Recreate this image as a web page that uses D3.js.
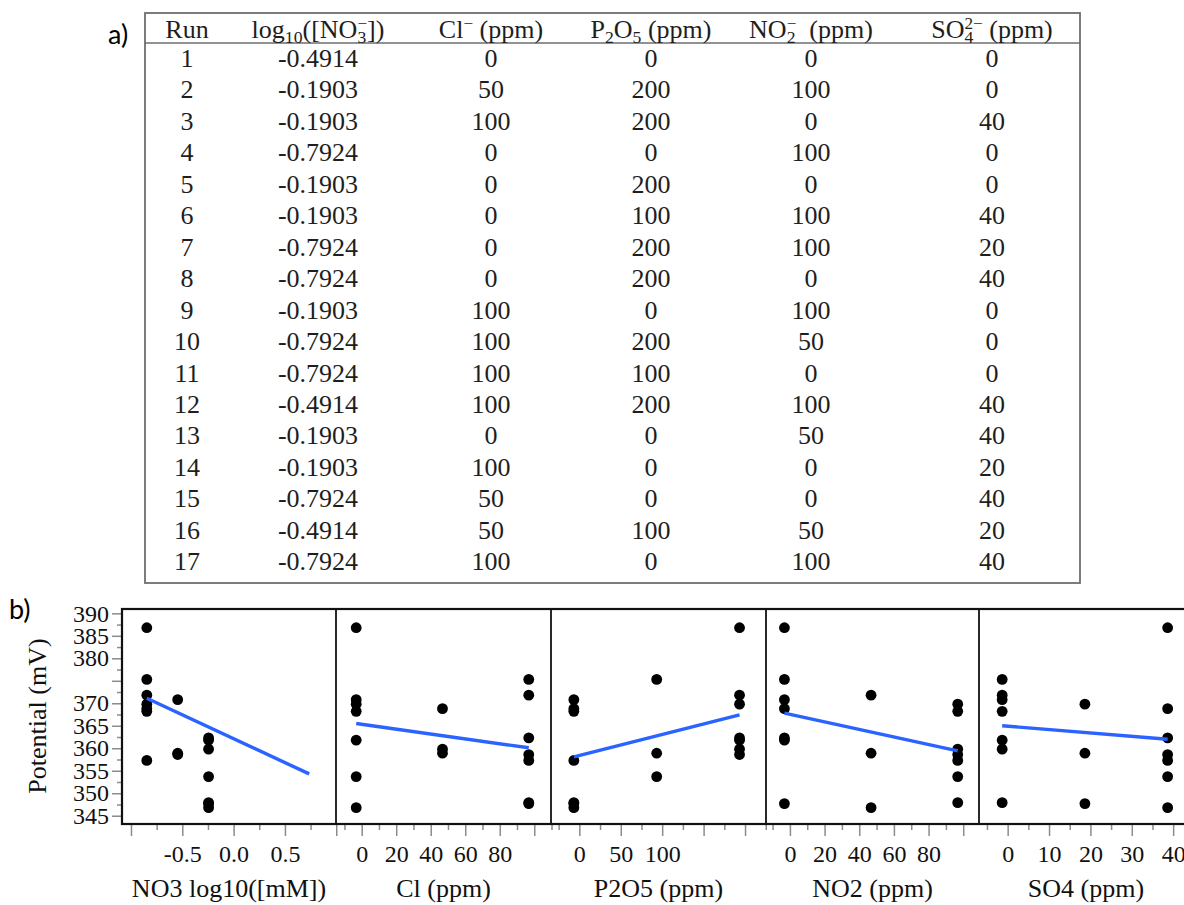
<!DOCTYPE html>
<html><head><meta charset="utf-8">
<script src="https://cdn.jsdelivr.net/npm/d3@7"></script>
<style>
html,body{margin:0;padding:0;background:#fff;}
svg{display:block;}
</style></head><body>
<svg id="chart" width="1184" height="905"></svg>
<script>
// ---------- data ----------
const runs = [1,2,3,4,5,6,7,8,9,10,11,12,13,14,15,16,17];
const no3 = [-0.4914,-0.1903,-0.1903,-0.7924,-0.1903,-0.1903,-0.7924,-0.7924,-0.1903,-0.7924,-0.7924,-0.4914,-0.1903,-0.1903,-0.7924,-0.4914,-0.7924];
const cl = [0,50,100,0,0,0,0,0,100,100,100,100,0,100,50,50,100];
const p2o5 = [0,200,200,0,200,100,200,200,0,200,100,200,0,0,0,100,0];
const no2 = [0,100,0,100,0,100,100,0,100,50,0,100,50,0,0,50,100];
const so4 = [0,0,40,0,0,40,20,40,0,0,0,40,40,20,40,20,40];
const potential = [370.8,359.8,362.3,368.2,361.8,353.7,369.8,386.8,347.9,371.8,375.3,358.6,346.8,347.7,368.8,358.9,357.3];

// fitted lines (x range and predicted potential at ends)
const fitX = [[-0.7924,0.79],[0,100],[0,200],[0,100],[0,40]];
const fitY = [[371.1,354.3],[365.5,360.1],[358.1,367.4],[367.8,359.4],[365.0,362.0]];

// table headers: [text, kind]  kind: n normal, sub, sup, stk (superscript stacked over previous subscript)
const tableHeaders = [
  [["Run","n"]],
  [["log","n"],["10","sub"],["([NO","n"],["3","sub"],["\u2212","stk"],["])","n"]],
  [["Cl","n"],["\u2212","sup"],[" (ppm)","n"]],
  [["P","n"],["2","sub"],["O","n"],["5","sub"],[" (ppm)","n"]],
  [["NO","n"],["2","sub"],["\u2212","stk"],["  (ppm)","n"]],
  [["SO","n"],["4","sub"],["2\u2212","stk"],[" (ppm)","n"]]
];

// panel axes
const xTitles = ["NO3 log10([mM])","Cl (ppm)","P2O5 (ppm)","NO2 (ppm)","SO4 (ppm)"];
const xTickLabels = [[-0.5,0,0.5],[0,20,40,60,80],[0,50,100],[0,20,40,60,80],[0,10,20,30,40]];
const xMajorStep = [0.5,20,50,20,10];
const xMinorStep = [0.25,10,25,10,5];
const xDomains = [[-1.0876,0.9976],[-14.9,109.7],[-34.2,225.3],[-13.8,109.1],[-6.93,44.8]];
const yTickLabels = [345,350,355,360,365,370,380,385,390];
const yMajorStep = 5, yMinorStep = 2.5;
const yDomain = [343.16,390.96];

// ---------- layout ----------
const serif = "'Liberation Serif','Times New Roman',serif";
const sans = "Lato,'Open Sans',sans-serif";
const svg = d3.select("#chart");

const T = {left:145,right:1080,top:13,bottom:583,headLine:43,headBase:38,firstBase:67,rowStep:31.45,size:26};
const colX = [187,318,491,651,811,992];

svg.append("text").attr("x",108).attr("y",44).style("font-family",sans).style("font-size","27px").text("a)");
svg.append("text").attr("x",9).attr("y",619).style("font-family",sans).style("font-size","27px").text("b)");

// table
const tg = svg.append("g");
tg.append("rect").attr("x",T.left).attr("y",T.top).attr("width",T.right-T.left).attr("height",T.bottom-T.top)
  .attr("fill","none").attr("stroke","#6e6e6e").attr("stroke-width",1.8);
tg.append("line").attr("x1",T.left).attr("x2",T.right).attr("y1",T.headLine).attr("y2",T.headLine)
  .attr("stroke","#6e6e6e").attr("stroke-width",1.6);

function drawHeader(x,y,segs,size){
  const t = tg.append("text").attr("x",x).attr("y",y).attr("text-anchor","middle")
    .style("font-family",serif).style("font-size",size+"px").attr("fill","#1e1e1e").attr("xml:space","preserve");
  let cur = 0, lastSubW = 0;
  segs.forEach(([s,k])=>{
    let target = 0, fs = size, dx = 0;
    if(k==="sub"){target = size*0.2; fs = size*0.68;}
    else if(k==="sup"){target = -size*0.34; fs = size*0.66;}
    else if(k==="stk"){target = -size*0.34; fs = size*0.66; dx = -lastSubW;}
    const ts = t.append("tspan").attr("dy",target-cur).style("font-size",fs+"px").text(s);
    if(dx) ts.attr("dx",dx);
    cur = target;
    if(k==="sub") lastSubW = ts.node().getComputedTextLength();
  });
}
tableHeaders.forEach((h,j)=>drawHeader(colX[j],T.headBase,h,T.size));

const columns = [runs,no3,cl,p2o5,no2,so4];
columns.forEach((col,j)=>{
  tg.selectAll(null).data(col).join("text")
    .attr("x",colX[j]).attr("y",(d,i)=>T.firstBase+i*T.rowStep)
    .attr("text-anchor","middle").style("font-family",serif).style("font-size",T.size+"px")
    .attr("fill","#1e1e1e").text(d=>String(d));
});

// ---------- panel plot ----------
const P = {top:609,bottom:824,edges:[122,336,551,766,979,1193],dataShift:-5.5};
const y = d3.scaleLinear().domain(yDomain).range([P.bottom,P.top]);
const xVars = [no3,cl,p2o5,no2,so4];
const tickGrey = "#8c8c8c";

function ticksFor(dom,step,eps){
  const a = Math.ceil((dom[0]-eps)/step), b = Math.floor((dom[1]+eps)/step);
  return d3.range(a,b+1).map(k=>+(k*step).toFixed(6));
}

// y axis
const yMaj = ticksFor(yDomain,yMajorStep,0);
const yMin = ticksFor(yDomain,yMinorStep,0).filter(v=>!yMaj.includes(v));
const yAx = svg.append("g").attr("transform",`translate(${P.edges[0]},0)`);
yAx.call(d3.axisLeft(y).tickValues(yMaj).tickSize(10).tickPadding(3)
  .tickFormat(d=>yTickLabels.includes(d)?String(d):""));
const yAx2 = svg.append("g").attr("transform",`translate(${P.edges[0]},0)`);
yAx2.call(d3.axisLeft(y).tickValues(yMin).tickSize(5).tickFormat(""));
[yAx,yAx2].forEach(g=>{
  g.select(".domain").remove();
  g.selectAll("line").attr("stroke",tickGrey).attr("stroke-width",1.5);
  g.selectAll("text").style("font-family",serif).style("font-size","24px").attr("fill","#111");
});
svg.append("text").attr("transform",`translate(46,716) rotate(-90)`).attr("text-anchor","middle")
  .style("font-family",serif).style("font-size","26px").attr("fill","#111").text("Potential (mV)");

xVars.forEach((vals,i)=>{
  const x0 = P.edges[i], x1 = P.edges[i+1];
  const x = d3.scaleLinear().domain(xDomains[i]).range([x0,x1]);
  const eps = (xDomains[i][1]-xDomains[i][0])*0.005;
  const maj = ticksFor(xDomains[i],xMajorStep[i],eps);
  const mn = ticksFor(xDomains[i],xMinorStep[i],eps).filter(v=>!maj.includes(v));
  const fmt = i===0 ? (d=>d.toFixed(1)) : (d=>String(d));
  const ax = svg.append("g").attr("transform",`translate(0,${P.bottom})`)
    .call(d3.axisBottom(x).tickValues(maj).tickSize(12).tickPadding(9)
      .tickFormat(d=>xTickLabels[i].includes(d)?fmt(d):""));
  const ax2 = svg.append("g").attr("transform",`translate(0,${P.bottom})`)
    .call(d3.axisBottom(x).tickValues(mn).tickSize(6).tickFormat(""));
  [ax,ax2].forEach(g=>{
    g.select(".domain").remove();
    g.selectAll("line").attr("stroke",tickGrey).attr("stroke-width",1.5);
    g.selectAll("text").style("font-family",serif).style("font-size","24px").attr("fill","#111");
  });
  svg.append("text").attr("x",(x0+x1)/2).attr("y",897).attr("text-anchor","middle")
    .style("font-family",serif).style("font-size","26px").attr("fill","#111").text(xTitles[i]);

  const dg = svg.append("g").attr("transform",`translate(${P.dataShift},0)`);
  dg.selectAll("circle").data(vals).join("circle")
    .attr("cx",d=>x(d)).attr("cy",(d,k)=>y(potential[k])).attr("r",5.4).attr("fill","#000");
  dg.append("line")
    .attr("x1",x(fitX[i][0])).attr("x2",x(fitX[i][1]))
    .attr("y1",y(fitY[i][0])).attr("y2",y(fitY[i][1]))
    .attr("stroke","#2a63ff").attr("stroke-width",3.4);
});

// frame and dividers
svg.append("rect").attr("x",P.edges[0]).attr("y",P.top).attr("width",P.edges[5]-P.edges[0]).attr("height",P.bottom-P.top)
  .attr("fill","none").attr("stroke","#111").attr("stroke-width",2.2);
svg.selectAll(".div").data(P.edges.slice(1,5)).join("line").attr("class","div")
  .attr("x1",d=>d).attr("x2",d=>d).attr("y1",P.top).attr("y2",P.bottom)
  .attr("stroke","#111").attr("stroke-width",1.8);
</script>
</body></html>
